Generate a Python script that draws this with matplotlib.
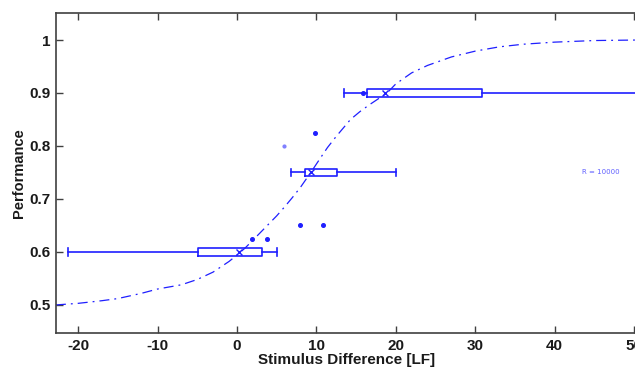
import numpy as np
import matplotlib
matplotlib.use("Agg")
import matplotlib.pyplot as plt

plt.rcParams["axes.unicode_minus"] = False

# psychometric fit, points
curve_x = [-22.8, -20, -17, -15, -12, -10, -7, -5, -3, -1, 0, 1, 2, 3.5, 5, 6, 7,
           8, 9.3, 10.5, 11.4, 12.5, 14.3, 15.5, 16.7, 17.8, 18.9, 20, 22, 24, 27,
           30, 33, 36, 40, 45, 50.5]
curve_y = [0.500, 0.503, 0.508, 0.512, 0.522, 0.530, 0.538, 0.548, 0.562, 0.582, 0.594,
           0.607, 0.622, 0.645, 0.668, 0.685, 0.703, 0.722, 0.750, 0.777, 0.797, 0.818,
           0.850, 0.865, 0.878, 0.889, 0.900, 0.917, 0.938, 0.952, 0.968,
           0.979, 0.987, 0.992, 0.996, 0.999, 1.000]

# bootstrap threshold distributions
levels = [0.6, 0.75, 0.9]
whis_lo = [-21.3, 6.8, 13.5]
q1 = [-4.9, 8.6, 16.4]
q3 = [3.1, 12.6, 30.9]
whis_hi = [5.1, 20.0, 60.0]
thresholds = [0.2, 9.3, 18.6]

out_x = [1.9, 3.8, 7.9, 10.9, 9.8, 15.9]
out_y = [0.625, 0.625, 0.65, 0.65, 0.825, 0.9]
faint_x = [5.9]
faint_y = [0.8]

blue = "#1f1fff"

fig = plt.figure(figsize=(6.35, 3.67), dpi=100)
ax = fig.add_axes([0.088, 0.0926, 0.916, 0.872])

ax.plot(curve_x, curve_y, color=blue, linewidth=0.9,
        linestyle=(0, (8, 4, 1.5, 4)))

stats = []
for i in range(len(levels)):
    stats.append(dict(whislo=whis_lo[i], q1=q1[i], med=q1[i], q3=q3[i],
                      whishi=whis_hi[i], fliers=[]))
ax.bxp(stats, positions=levels, widths=0.015, orientation="horizontal",
       showfliers=False, manage_ticks=False,
       boxprops=dict(color=blue, linewidth=1.2),
       whiskerprops=dict(color=blue, linewidth=1.2),
       capprops=dict(color=blue, linewidth=1.2),
       medianprops=dict(linewidth=0),
       capwidths=0.015)

ax.plot(thresholds, levels, "x", color=blue, markersize=4, markeredgewidth=1.0)
ax.plot(out_x, out_y, "o", color=blue, markersize=2.6)
ax.plot(faint_x, faint_y, "o", color="#8080ff", markersize=2)

ax.text(45.8, 0.75, "R = 10000", color="#6060ff", fontsize=5,
        ha="center", va="center")

ax.set_xlim(-22.8, 50.45)
ax.set_ylim(0.447, 1.051)
ax.set_xticks([-20, -10, 0, 10, 20, 30, 40, 50])
ax.set_yticks([0.5, 0.6, 0.7, 0.8, 0.9, 1.0])
ax.set_yticklabels(["0.5", "0.6", "0.7", "0.8", "0.9", "1"])

font = "Liberation Sans"
for lab in ax.get_xticklabels() + ax.get_yticklabels():
    lab.set_fontfamily(font)
    lab.set_fontweight("bold")
    lab.set_fontsize(11)
    lab.set_color("#1a1a1a")

ax.tick_params(direction="in", length=5, width=1, colors="#404040",
               top=True, right=False, labelcolor="#1a1a1a", pad=4)
for s in ax.spines.values():
    s.set_color("#404040")
    s.set_linewidth(1.2)

ax.set_xlabel("Stimulus Difference [LF]", fontfamily=font, fontweight="bold",
              fontsize=11, color="#1a1a1a", labelpad=0)
ax.set_ylabel("Performance", fontfamily=font, fontweight="bold",
              fontsize=10.5, color="#1a1a1a", labelpad=2)

fig.savefig("out.png", dpi=100)
